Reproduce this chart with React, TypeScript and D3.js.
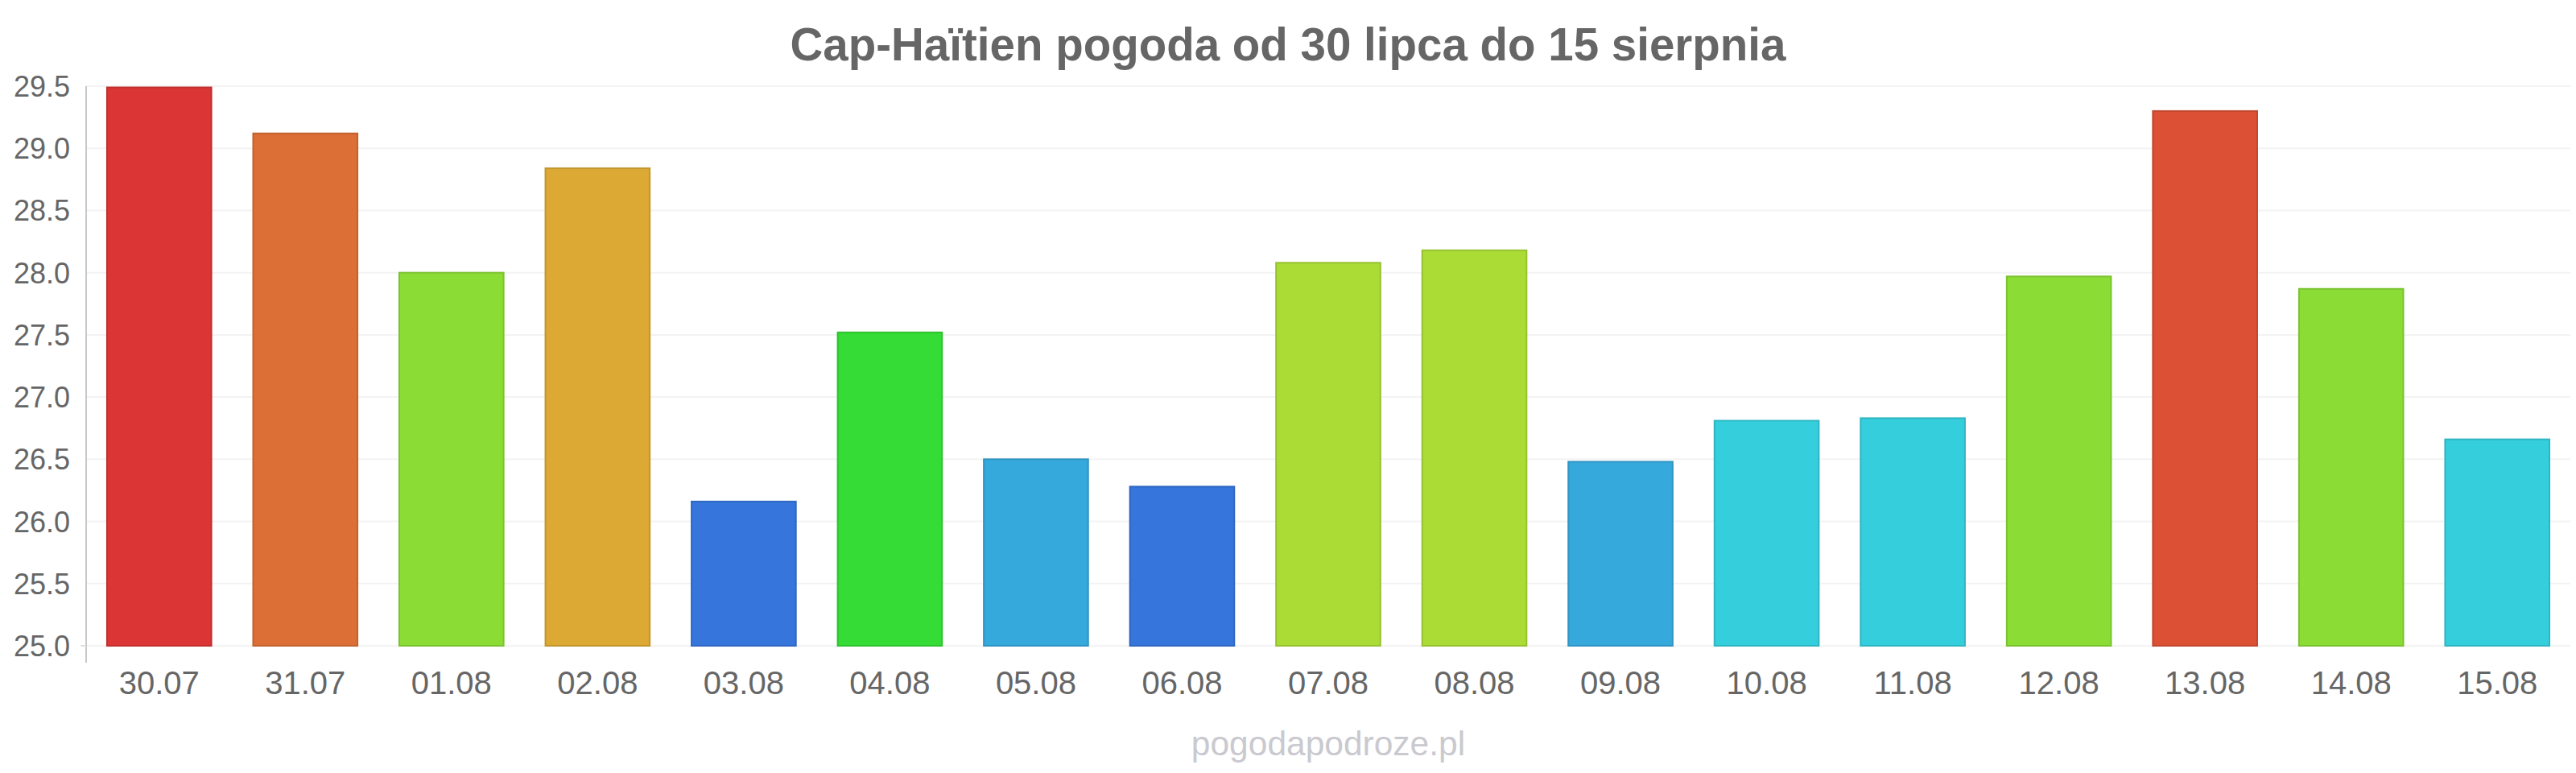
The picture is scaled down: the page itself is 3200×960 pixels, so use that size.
import React from "react";
import * as d3 from "d3";

// chart data
const days = [
  "30.07", "31.07", "01.08", "02.08", "03.08", "04.08", "05.08", "06.08", "07.08",
  "08.08", "09.08", "10.08", "11.08", "12.08", "13.08", "14.08", "15.08",
];
const temps = [
  29.49, 29.12, 28.0, 28.84, 26.16, 27.52, 26.5, 26.28, 28.08,
  28.18, 26.48, 26.81, 26.83, 27.97, 29.3, 27.87, 26.66,
];
const barColors = [
  "#db3535", "#dc6f35", "#8bdc35", "#dca935", "#3575dc", "#35dc35", "#35a8dc", "#3575dc", "#aadc35",
  "#aadc35", "#35a8dc", "#35cedc", "#35cedc", "#8bdc35", "#dc5035", "#8bdc35", "#35cedc",
];
const yTicks = [25.0, 25.5, 26.0, 26.5, 27.0, 27.5, 28.0, 28.5, 29.0, 29.5];

const title = "Cap-Haïtien pogoda od 30 lipca do 15 sierpnia";
const credit = "pogodapodroze.pl";

// layout
const width = 3200;
const height = 960;
const marginLeft = 107;
const marginRight = 7;
const plotTop = 107;
const plotBottom = 802;
const font = "'Liberation Sans', Arial, sans-serif";

const App: React.FC = () => {
  const x = d3
    .scaleBand<string>()
    .domain(days)
    .range([marginLeft, width - marginRight])
    .paddingInner(0.286)
    .paddingOuter(0.143);

  const y = d3.scaleLinear().domain([25, 29.5]).range([plotBottom, plotTop]);
  const fmt = d3.format(".1f");

  return (
    <>
      <style>{`body{margin:0}`}</style>
      <svg width={width} height={height} style={{ display: "block", background: "#fff" }}>
        {/* grid lines */}
        <g>
          {yTicks.map((t) => (
            <line
              key={t}
              x1={marginLeft}
              x2={width - marginRight}
              y1={y(t)}
              y2={y(t)}
              stroke="#f3f3f3"
              strokeWidth={2}
            />
          ))}
        </g>

        {/* y axis labels */}
        <g fontFamily={font} fontSize={36} fill="#666" textAnchor="end">
          {yTicks.map((t) => (
            <text key={t} x={87} y={y(t)} dy="0.36em">
              {fmt(t)}
            </text>
          ))}
        </g>

        {/* bars */}
        <g>
          {days.map((d, i) => (
            <rect
              key={d}
              x={x(d)}
              y={y(temps[i])}
              width={x.bandwidth()}
              height={y(25) - y(temps[i])}
              fill={barColors[i]}
              stroke={d3.color(barColors[i])!.darker(0.35).formatHex()}
              strokeWidth={2}
            />
          ))}
        </g>

        {/* y axis line */}
        <line x1={marginLeft} x2={marginLeft} y1={plotTop} y2={823} stroke="#c8c8c8" strokeWidth={2} />
        <line x1={100} x2={marginLeft} y1={plotBottom} y2={plotBottom} stroke="#e0e0e0" strokeWidth={2} />

        {/* x axis labels */}
        <g fontFamily={font} fontSize={40} fill="#666" textAnchor="middle">
          {days.map((d) => (
            <text key={d} x={(x(d) ?? 0) + x.bandwidth() / 2} y={862}>
              {d}
            </text>
          ))}
        </g>

        {/* title */}
        <text
          x={width / 2}
          y={75}
          textAnchor="middle"
          fontFamily={font}
          fontSize={56.5}
          fontWeight="bold"
          fill="#666"
        >
          {title}
        </text>

        {/* credit */}
        <text
          x={(marginLeft + width - marginRight) / 2}
          y={938}
          textAnchor="middle"
          fontFamily={font}
          fontSize={42.5}
          fill="#c9c9cf"
        >
          {credit}
        </text>
      </svg>
    </>
  );
};

export default App;
